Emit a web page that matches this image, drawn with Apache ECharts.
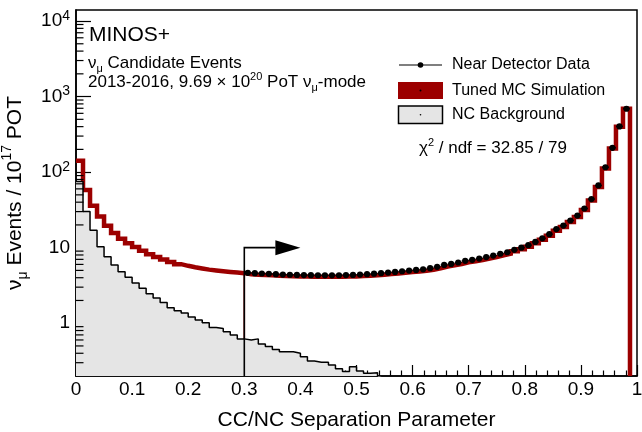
<!DOCTYPE html>
<html>
<head>
<meta charset="utf-8">
<script src="https://cdn.jsdelivr.net/npm/echarts@6/dist/echarts.min.js"></script>
<style>
  html, body { margin: 0; padding: 0; background: #fff; }
  #chart { width: 642px; height: 432px; }
</style>
</head>
<body>
<div id="chart"></div>
<script>
// 80 bins of 0.0125 in the CC/NC separation parameter
const BIN_WIDTH = 0.0125
const CUT_BIN = 24            // first selected bin (PID > 0.3)
const Y_MIN = 0.2
const Y_MAX = 14000

// tuned MC, bins 0..78
const mcValues = [
  141, 58, 36, 25.8, 19.5, 15.6, 13.1, 11.4, 10.2, 9.1, 8.2, 7.5, 6.95, 6.45, 6.05, 5.75,
  5.5, 5.3, 5.12, 4.98, 4.86, 4.76, 4.68, 4.6,
  4.44, 4.39, 4.35, 4.3, 4.25, 4.2, 4.18, 4.15, 4.14, 4.13, 4.12, 4.11, 4.11, 4.12, 4.14, 4.16,
  4.2, 4.25, 4.32, 4.39, 4.47, 4.56, 4.65, 4.75, 4.84, 4.94, 5.11, 5.32, 5.63, 5.83, 6.07, 6.4,
  6.59, 6.86, 7.16, 7.5, 7.93, 8.31, 8.93, 9.55, 10.3, 11.4, 12.7, 14.4, 16.8, 18.7, 21.9, 25.4,
  31.5, 42, 63.6, 112, 205, 398, 690
]

// NC background, bins 0..43
const ncValues = [
  75, 30, 17, 10.3, 7.6, 5.9, 4.8, 4.05, 3.4, 2.9, 2.45, 2.15, 1.88, 1.6, 1.46, 1.36,
  1.21, 1.1, 1.01, 0.88, 0.85, 0.77, 0.7, 0.62, 0.6, 0.62, 0.53, 0.49, 0.45, 0.42, 0.42, 0.4,
  0.36, 0.316, 0.305, 0.305, 0.28, 0.25, 0.23, 0.266, 0.233, 0.218, 0.22, 0.19
]

// near detector data, bins 24..78
const dataValues = [
  4.65, 4.6, 4.55, 4.5, 4.45, 4.4, 4.38, 4.35, 4.33, 4.32, 4.31, 4.3, 4.3, 4.31, 4.33, 4.36,
  4.4, 4.45, 4.52, 4.6, 4.68, 4.77, 4.87, 4.97, 5.07, 5.17, 5.35, 5.57, 5.9, 6.1, 6.36, 6.7,
  6.9, 7.18, 7.5, 7.85, 8.3, 8.7, 9.35, 10, 10.8, 11.9, 13.3, 15.1, 17.6, 19.6, 22.9, 26.6,
  33, 44, 66.6, 116, 210, 403, 690
]

const yMinorTicks = [
  0.3, 0.4, 0.5, 0.6, 0.7, 0.8, 0.9,
  2, 3, 4, 5, 6, 7, 8, 9,
  20, 30, 40, 50, 60, 70, 80, 90,
  200, 300, 400, 500, 600, 700, 800, 900,
  2000, 3000, 4000, 5000, 6000, 7000, 8000, 9000
]

// selection arrow
const ARROW_Y = 10
const ARROW_END = 0.4

const FONT = 'Liberation Sans'
const MC_COLOR = '#9c0000'

function edge(i) {
  return +(i * BIN_WIDTH).toFixed(4)
}

// points for a step:'end' line drawn as a histogram outline
function stepPoints(values, firstBin) {
  const pts = values.map((v, i) => [edge(firstBin + i), v])
  pts.push([edge(firstBin + values.length), values[values.length - 1]])
  return pts
}

const mcAll = stepPoints(mcValues, 0)
mcAll.push([edge(mcValues.length), Y_MIN])
const mcSel = [[edge(CUT_BIN), Y_MIN]].concat(stepPoints(mcValues.slice(CUT_BIN), CUT_BIN))
mcSel.push([edge(mcValues.length), Y_MIN])
const ncPts = stepPoints(ncValues, 0)
const dataPts = dataValues.map((v, i) => [edge(CUT_BIN + i), edge(CUT_BIN + i + 1), v])

function yLabel(v) {
  const e = Math.round(Math.log10(v))
  if (Math.abs(v - Math.pow(10, e)) > 1e-6 * v) return ''
  if (e === 0) return '1'
  if (e === 1) return '10'
  return '10{p|' + e + '}'
}

function renderMinorTick(params, api) {
  const p = api.coord([api.value(0), api.value(1)])
  return {
    type: 'line',
    shape: { x1: p[0], y1: p[1], x2: p[0] + 7.5, y2: p[1] },
    style: { stroke: '#000', lineWidth: 1.2 },
  }
}

function renderData(params, api) {
  const a = api.coord([api.value(0), api.value(2)])
  const b = api.coord([api.value(1), api.value(2)])
  return {
    type: 'group',
    children: [
      { type: 'line', shape: { x1: a[0], y1: a[1], x2: b[0], y2: b[1] }, style: { stroke: '#000', lineWidth: 1.2 } },
      { type: 'circle', shape: { cx: (a[0] + b[0]) / 2, cy: a[1], r: 3.1 }, style: { fill: '#000' } },
    ],
  }
}

function renderArrow(params, api) {
  const base = api.coord([api.value(0), Y_MIN])
  const corner = api.coord([api.value(0), api.value(1)])
  const tip = api.coord([api.value(2), api.value(1)])
  const len = 25, half = 7.5
  return {
    type: 'group',
    children: [
      {
        type: 'polyline',
        shape: { points: [base, corner, [tip[0] - len, tip[1]]] },
        style: { stroke: '#000', lineWidth: 1.6, fill: null },
      },
      {
        type: 'polygon',
        shape: { points: [[tip[0] - len, tip[1] - half], tip, [tip[0] - len, tip[1] + half]] },
        style: { fill: '#000' },
      },
    ],
  }
}

const textStyle = { fontFamily: FONT, fill: '#000', verticalAlign: 'middle' }

function buildOption() {
  return {
    animation: false,
    backgroundColor: '#fff',
    grid: {
      left: 76, right: 5, top: 10, bottom: 56, outerBoundsMode: 'none', containLabel: false,
      show: true, borderColor: '#000', borderWidth: 1.5,
    },
    xAxis: {
      type: 'value', min: 0, max: 1, interval: 0.1,
      name: 'CC/NC Separation Parameter', nameLocation: 'middle', nameGap: 34,
      nameTextStyle: { fontFamily: FONT, fontSize: 21, color: '#000' },
      axisLine: { lineStyle: { color: '#000', width: 1.6 } },
      axisTick: { inside: true, length: 11, lineStyle: { color: '#000', width: 1.2 } },
      minorTick: { show: true, splitNumber: 5, length: 5.5, lineStyle: { color: '#000', width: 1.2 } },
      splitLine: { show: false },
      axisLabel: {
        fontFamily: FONT, fontSize: 19, color: '#000', margin: 4,
        formatter: v => (v === 0 ? '0' : v === 1 ? '1' : v.toFixed(1)),
      },
    },
    yAxis: {
      type: 'log', min: Y_MIN, max: Y_MAX, logBase: 10,
      name: 'ν{s|μ} Events / 10{p|17} POT', nameLocation: 'middle', nameGap: 41,
      nameTextStyle: {
        fontFamily: FONT, fontSize: 21, color: '#000', lineHeight: 30,
        rich: {
          s: { fontFamily: FONT, fontSize: 14, color: '#000', verticalAlign: 'bottom', lineHeight: 16 },
          p: { fontFamily: FONT, fontSize: 14, color: '#000', verticalAlign: 'top', lineHeight: 18 },
        },
      },
      axisLine: { lineStyle: { color: '#000', width: 1.6 } },
      axisTick: { inside: true, length: 15, lineStyle: { color: '#000', width: 1.2 } },
      splitLine: { show: false },
      axisLabel: {
        fontFamily: FONT, fontSize: 19, color: '#000', margin: 6, lineHeight: 24,
        showMinLabel: false, showMaxLabel: false,
        formatter: yLabel,
        rich: { p: { fontFamily: FONT, fontSize: 14, color: '#000', verticalAlign: 'top', lineHeight: 17 } },
      },
    },
    series: [
      {
        name: 'Tuned MC Simulation', type: 'line', step: 'end', data: mcAll,
        symbol: 'none', lineStyle: { color: MC_COLOR, width: 4.5, join: 'miter' }, z: 2,
      },
      {
        name: 'Tuned MC line', type: 'line', step: 'end', data: mcSel,
        symbol: 'none', lineStyle: { color: MC_COLOR, width: 1.6 }, z: 2,
      },
      {
        name: 'NC Background', type: 'line', step: 'end', data: ncPts,
        symbol: 'none', lineStyle: { color: '#000', width: 1.5 },
        areaStyle: { color: '#e5e5e5', opacity: 1, origin: 'start' }, z: 3,
      },
      {
        name: 'minor ticks', type: 'custom', renderItem: renderMinorTick,
        data: yMinorTicks.map(v => [0, v]), encode: { x: 0, y: 1 }, z: 4,
      },
      {
        name: 'selection', type: 'custom', renderItem: renderArrow,
        data: [[edge(CUT_BIN), ARROW_Y, ARROW_END]], encode: { x: [0, 2], y: 1 }, z: 5,
      },
      {
        name: 'Near Detector Data', type: 'custom', renderItem: renderData,
        data: dataPts, encode: { x: [0, 1], y: 2 }, z: 6,
      },
    ],
    graphic: [
      { type: 'text', x: 89, y: 35, style: Object.assign({ text: 'MINOS+', fontSize: 21 }, textStyle) },
      {
        type: 'text', x: 88, y: 63,
        style: Object.assign({
          text: 'ν{s|μ} Candidate Events', fontSize: 17, lineHeight: 22,
          rich: { s: { fontFamily: FONT, fontSize: 11, verticalAlign: 'bottom', lineHeight: 14 } },
        }, textStyle),
      },
      {
        type: 'text', x: 88, y: 82,
        style: Object.assign({
          text: '2013-2016, 9.69 × 10{p|20} PoT ν{s|μ}-mode', fontSize: 17, lineHeight: 22,
          rich: {
            s: { fontFamily: FONT, fontSize: 11, verticalAlign: 'bottom', lineHeight: 14 },
            p: { fontFamily: FONT, fontSize: 11, verticalAlign: 'top', lineHeight: 14 },
          },
        }, textStyle),
      },
      // legend
      { type: 'line', shape: { x1: 399, y1: 65, x2: 442, y2: 65 }, style: { stroke: '#000', lineWidth: 1.2 } },
      { type: 'circle', shape: { cx: 420.5, cy: 65, r: 2.8 }, style: { fill: '#000' } },
      { type: 'text', x: 452, y: 65, style: Object.assign({ text: 'Near Detector Data', fontSize: 16 }, textStyle) },
      { type: 'rect', shape: { x: 398, y: 82, width: 45, height: 17 }, style: { fill: MC_COLOR } },
      { type: 'circle', shape: { cx: 420.5, cy: 90.5, r: 1 }, style: { fill: '#000' } },
      { type: 'text', x: 452, y: 90.5, style: Object.assign({ text: 'Tuned MC Simulation', fontSize: 16 }, textStyle) },
      { type: 'rect', shape: { x: 398.5, y: 106, width: 44, height: 17.5 }, style: { fill: '#e5e5e5', stroke: '#000', lineWidth: 1.5 } },
      { type: 'circle', shape: { cx: 420.5, cy: 114.8, r: 0.8 }, style: { fill: '#000' } },
      { type: 'text', x: 452, y: 115, style: Object.assign({ text: 'NC Background', fontSize: 16 }, textStyle) },
      {
        type: 'text', x: 419, y: 148,
        style: Object.assign({
          text: 'χ{p|2} / ndf = 32.85 / 79', fontSize: 17, lineHeight: 22,
          rich: { p: { fontFamily: FONT, fontSize: 11, verticalAlign: 'top', lineHeight: 14 } },
        }, textStyle),
      },
    ],
  }
}

const chart = echarts.init(document.getElementById('chart'), null, { renderer: 'canvas' })
chart.setOption(buildOption())
window.addEventListener('resize', () => chart.resize())
</script>
</body>
</html>
